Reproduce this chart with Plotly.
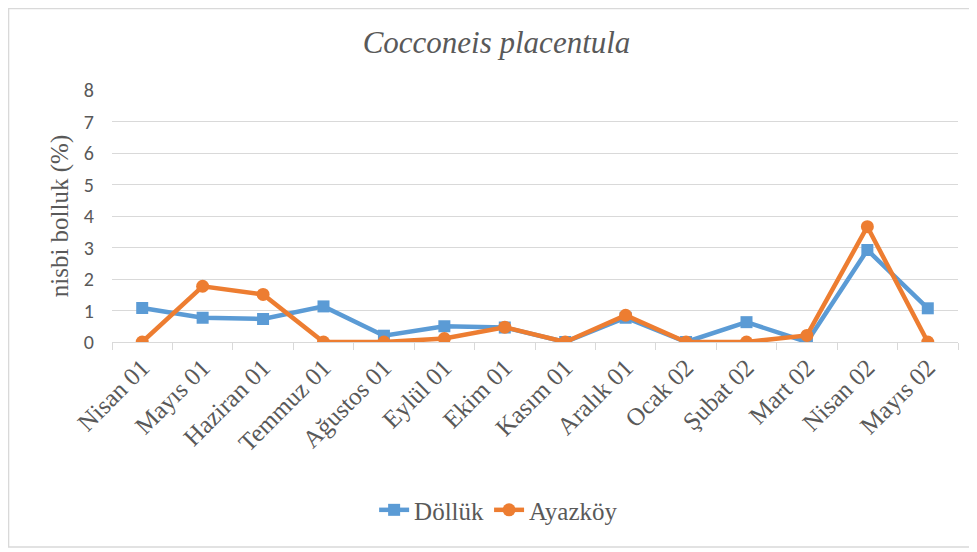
import plotly.graph_objects as go

# Dados
meses = ["Nisan 01", "Mayıs 01", "Haziran 01", "Temmuz 01", "Ağustos 01", "Eylül 01",
         "Ekim 01", "Kasım 01", "Aralık 01", "Ocak 02", "Şubat 02", "Mart 02",
         "Nisan 02", "Mayıs 02"]
dolluk = [1.08, 0.77, 0.73, 1.13, 0.2, 0.5, 0.46, 0.0, 0.77, 0.0, 0.63, 0.0, 2.92, 1.07]
ayazkoy = [0.0, 1.77, 1.51, 0.0, 0.0, 0.11, 0.47, 0.0, 0.85, 0.0, 0.0, 0.21, 3.66, 0.0]
y_ticks = [0, 1, 2, 3, 4, 5, 6, 7, 8]

SERIF = "Liberation Serif"
SANS = "Carlito, Liberation Sans, Arial, sans-serif"
CINZA = "#595959"

fig = go.Figure()

fig.add_trace(go.Scatter(
    x=meses, y=dolluk, mode="lines+markers", name="Döllük",
    line=dict(color="#5B9BD5", width=4.5),
    marker=dict(symbol="square", size=12, color="#5B9BD5"),
))
fig.add_trace(go.Scatter(
    x=meses, y=ayazkoy, mode="lines+markers", name="Ayazköy",
    line=dict(color="#ED7D31", width=4.5),
    marker=dict(symbol="circle", size=13, color="#ED7D31"),
))

# a página tem 8px de margem no body: compensar nas margens
fig.update_layout(
    width=977, height=552,
    margin=dict(l=104, r=27, t=82, b=218, autoexpand=False),
    paper_bgcolor="white", plot_bgcolor="white",
    title=dict(text="<i>Cocconeis placentula</i>", x=0.5, xanchor="center",
               y=0.938, yanchor="middle",
               font=dict(family=SERIF, size=31, color=CINZA)),
    showlegend=True,
    legend=dict(orientation="h", x=0.457, xanchor="center", y=-0.667, yanchor="middle",
                font=dict(family=SERIF, size=25, color=CINZA),
                traceorder="normal"),
    shapes=[dict(type="rect", xref="paper", yref="paper",
                 x0=-0.1223, x1=1.04, y0=-0.8135, y1=1.3234,
                 line=dict(color="#d9d9d9", width=1.5))],
)

fig.update_xaxes(
    type="category", range=[-0.5, len(meses) - 0.5],
    tickangle=-45, tickson="boundaries", automargin=False,
    ticks="outside", ticklen=7, tickcolor="#d9d9d9",
    showline=True, linecolor="#d9d9d9", linewidth=1,
    showgrid=False,
    tickfont=dict(family=SERIF, size=25, color=CINZA),
)
fig.update_yaxes(
    range=[0, 8], tickvals=y_ticks, showgrid=True, gridcolor="#d9d9d9", gridwidth=1,
    zeroline=False, showline=False, ticks="", automargin=False,
    ticklabelstandoff=17,
    tickfont=dict(family=SANS, size=20, color=CINZA),
    title_text="nisbi bolluk (%)", title_standoff=8,
    title_font=dict(family=SERIF, size=25, color=CINZA),
)

fig.write_html("out.html")
